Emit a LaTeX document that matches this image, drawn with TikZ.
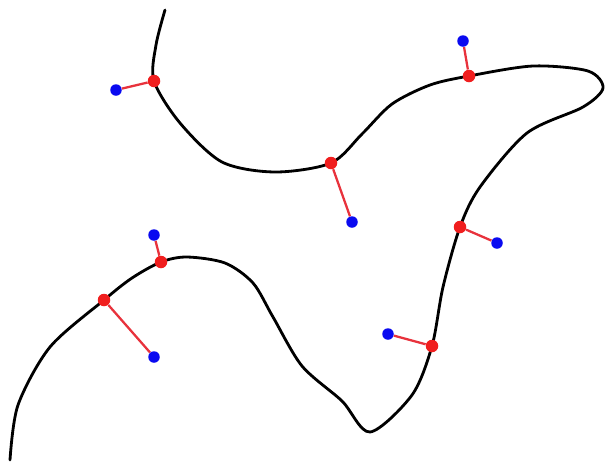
\documentclass[tikz,border=0pt]{standalone}
\usetikzlibrary{positioning}
\definecolor{cred}{HTML}{F01E1E}
\definecolor{cline}{HTML}{E8323C}
\definecolor{cblue}{HTML}{0A0AF0}
\tikzset{
  curve/.style={black, line width=1.6pt, line cap=round},
  foot/.style={circle, fill=cred, inner sep=0pt, minimum size=0.25cm},
  pt/.style={circle, fill=cblue, inner sep=0pt, minimum size=0.23cm},
  proj/.style={draw=cline, line width=1.3pt},
}
\begin{document}
\begin{tikzpicture}[x=0.02cm, y=-0.02cm]
  \useasboundingbox (0,0) rectangle (605,461);
  % the curve
  \draw[curve] plot[smooth] coordinates {
    (165,10) (156,45) (154,81) (180,123) (222,162) (275,172) (331,163) (362,134)
    (392,104) (430,85) (469,76) (533,66) (588,71) (603,88) (583,107) (527,133) (480,187)
    (460,227) (443,287) (432,346) (412,395) (370,432) (342,401) (302,366) (273,317)
    (253,283) (225,263) (187,257) (161,262) (132,278) (104,300) (50,347) (18,405) (10,460)};
  % points and their closest points on the curve
  \foreach \n/\fx/\fy/\px/\py in {1/154/81/116/90, 2/331/163/352/222, 3/469/76/463/41,
      4/460/227/497/243, 5/432/346/388/334, 6/161/262/154/235, 7/104/300/154/357} {
    \node[foot] (f\n) at (\fx,\fy) {};
    \node[pt] (p\n) at (\px,\py) {};
    \draw[proj] (p\n) -- (f\n);
  }
\end{tikzpicture}
\end{document}
